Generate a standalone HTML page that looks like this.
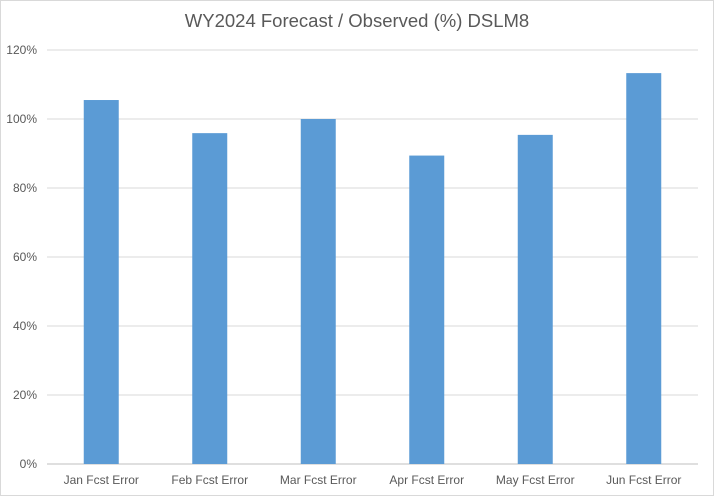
<!DOCTYPE html>
<html><head><meta charset="utf-8"><style>
html,body{margin:0;padding:0;background:#fff}
svg{display:block;font-family:"Liberation Sans",Arial,sans-serif}
</style></head><body>
<svg id="chart" width="714" height="496" viewBox="0 0 714 496">
<rect x="0.5" y="0.5" width="713" height="495" fill="#fff" stroke="#d9d9d9"/>
<text x="357" y="27" text-anchor="middle" font-size="18.5" fill="#595959">WY2024 Forecast / Observed (%) DSLM8</text>
<g id="grid"></g><g id="bars"></g><g id="labels"></g>
</svg>
<script>
const categories=["Jan Fcst Error","Feb Fcst Error","Mar Fcst Error","Apr Fcst Error","May Fcst Error","Jun Fcst Error"];
const values=[105.5,95.9,100.0,89.4,95.4,113.3];
const tickValues=[0,20,40,60,80,100,120];
const tickLabels=["0%","20%","40%","60%","80%","100%","120%"];
const NS="http://www.w3.org/2000/svg";
const x0=47,x1=698,y0=464,y1=50,ymax=120;
const y=v=>y0-(v/ymax)*(y0-y1);
const bw=(x1-x0)/categories.length;
const xc=i=>x0+bw*(i+0.5);
const grid=document.getElementById('grid'),bars=document.getElementById('bars'),labels=document.getElementById('labels');
function mk(tag,attrs,parent,txt){const e=document.createElementNS(NS,tag);for(const k in attrs)e.setAttribute(k,attrs[k]);if(txt!=null)e.textContent=txt;parent.appendChild(e);return e;}
tickValues.forEach((t,i)=>{
  const l=mk('line',{x1:x0,x2:x1,y1:y(t),y2:y(t),stroke:t===0?'#bfbfbf':'#d9d9d9','stroke-width':1},grid);
  
  
  const tx=mk('text',{x:37,y:y(t)+4,'text-anchor':'end','font-size':12,fill:'#595959'},labels,tickLabels[i]);
  
  
});
categories.forEach((c,i)=>{
  const w=35;
  const r=mk('rect',{x:xc(i)-w/2,y:y(values[i]),width:w,height:y0-y(values[i]),fill:'#5b9bd5'},bars);
  
  
  const tx=mk('text',{x:xc(i),y:484,'text-anchor':'middle','font-size':12,fill:'#595959'},labels,c);
  
  
});
</script>
</body></html>
